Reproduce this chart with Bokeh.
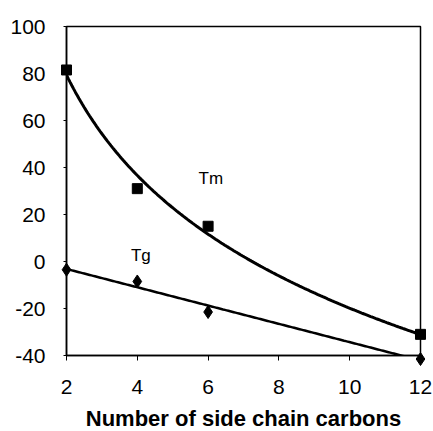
import numpy as np
from bokeh.plotting import figure
from bokeh.models import Range1d, FixedTicker, Label
from bokeh.embed import file_html
from bokeh.resources import INLINE

# data
carbons = [2, 4, 6, 12]
tm_values = [81.5, 31, 15, -31]
tg_values = [-3.5, -8.5, -21.5, -41.5]
x_ticks = [2, 4, 6, 8, 10, 12]
y_ticks = [-40, -20, 0, 20, 40, 60, 80, 100]
y_tick_labels = ["-40", "-20", "0", "20", "40", "60", "80", "100"]
x_title = "Number of side chain carbons"

# trendlines fitted to the data (logarithmic for Tm, linear for Tg)
xs = np.linspace(min(carbons), max(carbons), 200)
b_tm, a_tm = np.polyfit(np.log(carbons), tm_values, 1)
tm_fit = a_tm + b_tm * np.log(xs)
m_tg, c_tg = np.polyfit(carbons, tg_values, 1)
tg_fit = c_tg + m_tg * xs

FONT = "Liberation Sans"

p = figure(
    frame_width=354, frame_height=329,
    min_border_left=66, min_border_right=13, min_border_top=26, min_border_bottom=76,
    x_range=Range1d(2, 12), y_range=Range1d(-40, 100),
    output_backend="svg", toolbar_location=None,
)
p.grid.visible = False
p.outline_line_color = "black"
p.outline_line_width = 1.5
p.background_fill_color = "white"
p.border_fill_color = "white"

# axes
p.xaxis.ticker = FixedTicker(ticks=x_ticks)
p.yaxis.ticker = FixedTicker(ticks=y_ticks)
p.yaxis.major_label_overrides = {t: lab for t, lab in zip(y_ticks, y_tick_labels)}
for ax in (p.xaxis, p.yaxis):
    ax.axis_line_color = "black"
    ax.axis_line_width = 1.5
    ax.major_tick_line_color = "black"
    ax.major_tick_in = 0
    ax.minor_tick_line_color = None
    ax.major_label_text_font = FONT
    ax.major_label_text_font_size = "21px"
    ax.major_label_text_color = "black"
p.xaxis.major_tick_out = 5
p.xaxis.major_label_standoff = 19
p.yaxis.major_tick_out = 3
p.yaxis.major_label_standoff = 18
p.xaxis.axis_label = x_title
p.xaxis.axis_label_text_font = FONT
p.xaxis.axis_label_text_font_size = "22px"
p.xaxis.axis_label_text_font_style = "bold"
p.xaxis.axis_label_text_color = "black"
p.xaxis.axis_label_standoff = 9

# trendlines
p.line(xs, tm_fit, line_color="black", line_width=3)
p.line(xs, tg_fit, line_color="black", line_width=2.5)

# data points
r1 = p.scatter(carbons, tm_values, marker="square", size=10, color="black")
r2 = p.scatter(carbons, tg_values, marker="diamond", size=13, color="black")
r1.level = "overlay"
r2.level = "overlay"

# series labels
p.add_layout(Label(x=5.73, y=35.5, text="Tm", text_font=FONT, text_font_size="17px",
                   text_color="black", text_baseline="alphabetic"))
p.add_layout(Label(x=3.82, y=2.6, text="Tg", text_font=FONT, text_font_size="17px",
                   text_color="black", text_baseline="alphabetic"))

open("out.html", "w").write(file_html(p, INLINE))
